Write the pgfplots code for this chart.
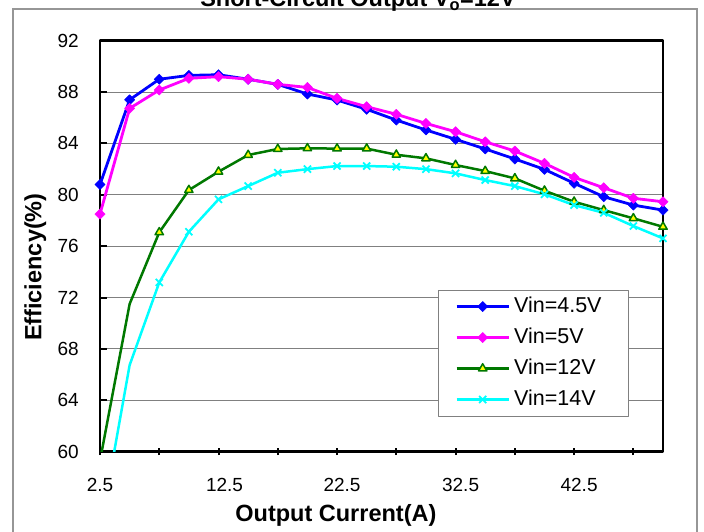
\documentclass[border=0pt]{standalone}
\usepackage{fontspec}
\setmainfont{Liberation Sans}
\usepackage{pgfplots}
\pgfplotsset{compat=1.18}
\definecolor{framegray}{RGB}{150 150 150}
\definecolor{gridgray}{RGB}{128 128 128}
\definecolor{dkgreen}{RGB}{0 120 0}
\definecolor{vblue}{RGB}{0 0 255}
\definecolor{vmag}{RGB}{255 0 255}
\definecolor{vcyan}{RGB}{0 255 255}
\definecolor{vyellow}{RGB}{255 255 0}

\begin{document}
\begin{tikzpicture}[x=1pt,y=1pt]
% plot box lower-left corner is the origin; 1pt = 1px of the reference
\begin{axis}[
    scale only axis, width=563pt, height=411pt,
    at={(0,0)}, anchor=south west,
    xmin=2.5, xmax=50, ymin=60, ymax=92,
    xtick={2.5,7.5,...,47.5},
    xticklabels={2.5,,\hspace{12pt}12.5,,\hspace{10pt}22.5,,\hspace{10pt}32.5,,\hspace{10pt}42.5,},
    ytick={60,64,...,92},
    xtick pos=bottom, ytick pos=left,
    ymajorgrids, y grid style={gridgray, line width=1pt},
    axis line style={black, line width=2.5pt},
    tick style={black, line width=2pt},
    major tick length=7pt,
    x tick style={yshift=-3.5pt},
    ticklabel style={font=\fontsize{19}{22}\selectfont},
    /pgf/number format/assume math mode=true,
    xticklabel style={anchor=base, yshift=-40pt},
    yticklabel style={anchor=east, inner sep=0pt, xshift=-21pt},
    xlabel={\bfseries Output Current(A)},
    ylabel={\bfseries Efficiency(\%)},
    label style={font=\fontsize{23.5}{28}\selectfont},
    xlabel style={at={(axis description cs:0.419,-0.156)}, anchor=center},
    ylabel style={at={(axis description cs:-0.115,0.449)}, anchor=center, rotate=0},
    legend style={at={(axis description cs:0.600,0.3946)}, anchor=north west,
      draw=gridgray, line width=1pt, fill=white,
      inner xsep=17pt, inner ysep=1pt, row sep=0pt,
      font=\fontsize{21.5}{24}\selectfont,
      nodes={text height=16pt, text depth=5pt, inner ysep=5pt}},
    legend cell align=left,
    legend image code/.code={
      \draw[#1, mark indices={2}]
        plot coordinates {(0pt,0pt) (26pt,0pt) (52pt,0pt)};},
    /tikz/every odd column/.append style={column sep=2pt},
    line join=round,
]
\addplot[vblue, line width=2.8pt, mark=square*, mark size=3.6pt,
  mark options={rotate=45, solid, line width=0.5pt}] coordinates {
(2.5,80.8) (5,87.4) (7.5,89.0) (10,89.3) (12.5,89.35) (15,89.0) (17.5,88.6)
(20,87.85) (22.5,87.38) (25,86.66) (27.5,85.82) (30,85.05) (32.5,84.32)
(35,83.57) (37.5,82.79) (40,81.98) (42.5,80.9) (45,79.85) (47.5,79.2) (50,78.81)};
\addplot[vmag, line width=2.8pt, mark=square*, mark size=3.6pt,
  mark options={rotate=45, solid, line width=0.5pt}] coordinates {
(2.5,78.5) (5,86.73) (7.5,88.16) (10,89.07) (12.5,89.2) (15,89.0) (17.5,88.6)
(20,88.36) (22.5,87.51) (25,86.86) (27.5,86.27) (30,85.56) (32.5,84.91)
(35,84.13) (37.5,83.41) (40,82.45) (42.5,81.36) (45,80.55) (47.5,79.73) (50,79.46)};
\addplot[dkgreen, line width=2.5pt, mark=triangle*, mark size=4.8pt,
  mark indices={2,...,20},
  mark options={solid, fill=vyellow, draw=dkgreen, line width=1.5pt}] coordinates {
(2.5,59.3) (5,71.5) (7.5,77.08) (10,80.37) (12.5,81.8) (15,83.1) (17.5,83.57)
(20,83.62) (22.5,83.6) (25,83.6) (27.5,83.12) (30,82.84) (32.5,82.32)
(35,81.85) (37.5,81.28) (40,80.32) (42.5,79.46) (45,78.81) (47.5,78.17) (50,77.51)};
\addplot[vcyan, line width=2.5pt, mark=x, mark size=5pt,
  mark indices={2,...,20},
  mark options={solid, line width=1.8pt}] coordinates {
(2.5,53.8) (5,66.74) (7.5,73.18) (10,77.13) (12.5,79.65) (15,80.68) (17.5,81.72)
(20,82.0) (22.5,82.24) (25,82.24) (27.5,82.19) (30,82.0) (32.5,81.67)
(35,81.15) (37.5,80.68) (40,80.04) (42.5,79.2) (45,78.6) (47.5,77.57) (50,76.61)};
\legend{\makebox[95pt][l]{Vin=4.5V},Vin=5V,Vin=12V,Vin=14V}
\end{axis}
% outer chart frame (its bottom edge lies below the visible area) and the cut-off title
\draw[framegray, line width=2pt] (-87,-100) -- (-87,442.7) -- (597,442.7) -- (597,-100);
\node[font=\fontsize{23.5}{28}\selectfont\bfseries, anchor=base, inner sep=0pt]
  at (258,445) {Short-Circuit Output V\textsubscript{o}=12V};
\pgfresetboundingbox
\useasboundingbox (-100,-79.3) rectangle (604,451.7);
\end{tikzpicture}
\end{document}
